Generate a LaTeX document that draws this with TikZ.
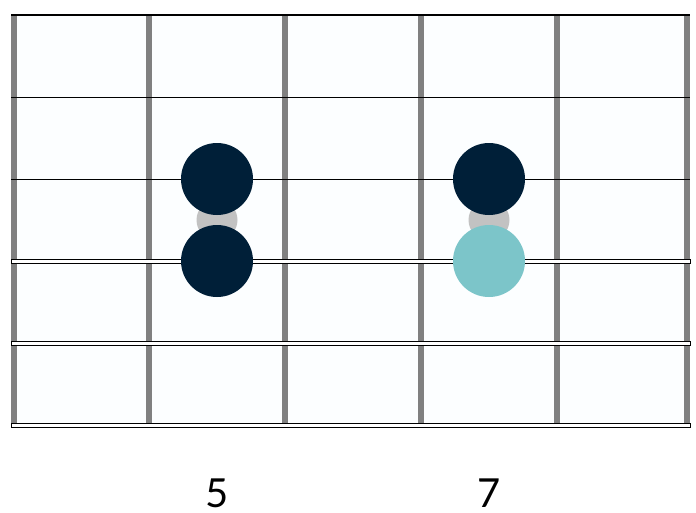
\documentclass[tikz,border=0pt]{standalone}
\usepackage{fontspec}
\setmainfont{Lato}
\usepackage{tikz}

\definecolor{navy}{HTML}{001F38}
\definecolor{teal}{HTML}{7CC5C9}
\definecolor{fretgray}{HTML}{808080}
\definecolor{ghost}{HTML}{C2C2C2}

\begin{document}
\begin{tikzpicture}[x=1pt,y=-1pt]
	\useasboundingbox[fill=white] (0,0) rectangle (696,512);

	\coordinate (d1) at (217,179);
	\coordinate (d2) at (217,261);
	\coordinate (d3) at (489,179);
	\coordinate (d4) at (489,261);
	\coordinate (g1) at (217,220);
	\coordinate (g2) at (489,220);

	\fill[white!99!cyan] (14,15) rectangle (687,425);

	\draw[fretgray,line width=6pt] (14,15) -- (14,425);
	\draw[fretgray,line width=6pt] (149,15) -- (149,425);
	\draw[fretgray,line width=6pt] (285,15) -- (285,425);
	\draw[fretgray,line width=6pt] (421,15) -- (421,425);
	\draw[fretgray,line width=6pt] (557,15) -- (557,425);
	\draw[fretgray,line width=6pt] (687,15) -- (687,425);

	\draw[black,line width=1.2pt] (11,15) -- (690,15);
	\draw[black,line width=1pt] (11,97) -- (690,97);
	\draw[black,line width=1pt] (11,179) -- (690,179);
	\draw[black,fill=white,line width=0.8pt] (11,259.6) rectangle (690,263);
	\draw[black,fill=white,line width=0.8pt] (11,341.6) rectangle (690,345);
	\draw[black,fill=white,line width=0.8pt] (11,423.6) rectangle (690,427);

	\node[circle,fill=ghost,minimum size=41pt,inner sep=0pt] (ghost1) at (g1){};
	\node[circle,fill=ghost,minimum size=41pt,inner sep=0pt] (ghost2) at (g2){};
	\node[circle,fill=navy,minimum size=72pt,inner sep=0pt] (dot1) at (d1){};
	\node[circle,fill=navy,minimum size=72pt,inner sep=0pt] (dot2) at (d2){};
	\node[circle,fill=navy,minimum size=72pt,inner sep=0pt] (dot3) at (d3){};
	\node[circle,fill=teal,minimum size=72pt,inner sep=0pt] (dot4) at (d4){};

	\node[font=\fontsize{40}{40}\selectfont,inner sep=0pt,anchor=base] (fret5) at (217,507) {5};
	\node[font=\fontsize{40}{40}\selectfont,inner sep=0pt,anchor=base] (fret7) at (489,507) {7};
\end{tikzpicture}
\end{document}
